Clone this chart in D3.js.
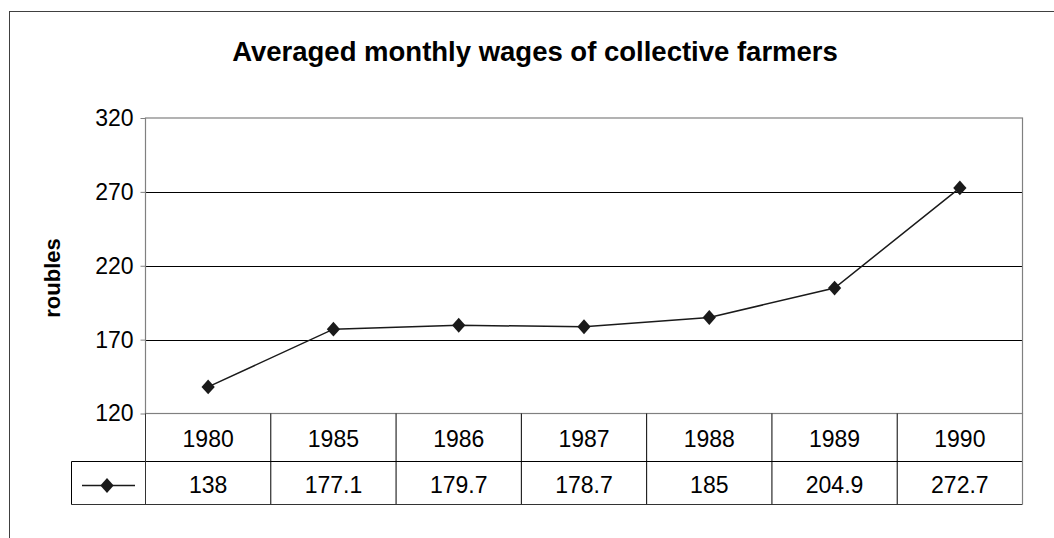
<!DOCTYPE html>
<html>
<head>
<meta charset="utf-8">
<script src="https://cdn.jsdelivr.net/npm/d3@7"></script>
<style>
  html, body { margin: 0; padding: 0; background: #fff; }
  svg { display: block; font-family: Arial, "Liberation Sans", sans-serif; }
</style>
</head>
<body>
<svg id="chart" width="1054" height="538"></svg>
<script>
// Averaged monthly wages of collective farmers (roubles)
const years = ["1980", "1985", "1986", "1987", "1988", "1989", "1990"];
const wages = [138, 177.1, 179.7, 178.7, 185, 204.9, 272.7];
const wageLabels = ["138", "177.1", "179.7", "178.7", "185", "204.9", "272.7"];
const yTicks = [120, 170, 220, 270, 320];

const svg = d3.select("#chart");

const plot = { left: 145.5, right: 1022.5, top: 118, bottom: 413.5 };
const rowH1 = 48, rowH2 = 43;
const legendLeft = 71.5;

// outer chart frame (runs off the right and bottom edges)
svg.append("rect")
  .attr("x", 9.5).attr("y", 11.5)
  .attr("width", 1100).attr("height", 600)
  .attr("fill", "none").attr("stroke", "#404040").attr("stroke-width", 1);

svg.append("text")
  .attr("x", 535).attr("y", 61)
  .attr("text-anchor", "middle")
  .attr("font-size", 27.5).attr("font-weight", "bold")
  .attr("fill", "#000")
  .text("Averaged monthly wages of collective farmers");

const x = d3.scaleBand().domain(years).range([plot.left, plot.right]).padding(0);
const y = d3.scaleLinear().domain([120, 320]).range([plot.bottom, plot.top]);

// horizontal gridlines
svg.append("g").selectAll("line").data(yTicks.filter(t => t > 120 && t < 320)).join("line")
  .attr("x1", plot.left).attr("x2", plot.right)
  .attr("y1", d => Math.round(y(d)) + 0.5).attr("y2", d => Math.round(y(d)) + 0.5)
  .attr("stroke", "#000").attr("stroke-width", 1);

// value axis
const yAxis = d3.axisLeft(y).tickValues(yTicks).tickSize(5).tickPadding(7);
const gy = svg.append("g")
  .attr("transform", `translate(${plot.left},0)`)
  .call(yAxis);
gy.select(".domain").remove();
gy.selectAll(".tick line").attr("stroke", "#808080");
gy.selectAll(".tick text")
  .attr("font-size", 23).attr("fill", "#000")
  .attr("font-family", "Arial, 'Liberation Sans', sans-serif");

// plot area border
svg.append("rect")
  .attr("x", plot.left).attr("y", plot.top)
  .attr("width", plot.right - plot.left).attr("height", plot.bottom - plot.top)
  .attr("fill", "none").attr("stroke", "#808080").attr("stroke-width", 1.2);

svg.append("text")
  .attr("transform", `translate(60,278) rotate(-90)`)
  .attr("text-anchor", "middle")
  .attr("font-size", 22).attr("font-weight", "bold")
  .text("roubles");

// series line and markers
const line = d3.line()
  .x((d, i) => x(years[i]) + x.bandwidth() / 2)
  .y(d => y(d));

svg.append("path")
  .datum(wages)
  .attr("d", line)
  .attr("fill", "none").attr("stroke", "#1a1a1a").attr("stroke-width", 1.5);

// diamond marker: square rotated 45°, slightly taller than wide
const diamond = d3.symbol().type(d3.symbolDiamond2).size(112);
svg.append("g").selectAll("path").data(wages).join("path")
  .attr("d", diamond)
  .attr("transform", (d, i) => `translate(${x(years[i]) + x.bandwidth() / 2},${y(d)}) scale(1,1.12)`)
  .attr("fill", "#1a1a1a");

// data table
const t0 = plot.bottom, t1 = t0 + rowH1, t2 = t1 + rowH2;
const table = svg.append("g");

// column separators
table.selectAll("line.col").data(years.slice(1)).join("line")
  .attr("class", "col")
  .attr("x1", d => x(d)).attr("x2", d => x(d))
  .attr("y1", t0).attr("y2", t2)
  .attr("stroke", "#000").attr("stroke-width", 1);

// row separator and borders
table.append("line")
  .attr("x1", legendLeft).attr("x2", plot.right).attr("y1", t1).attr("y2", t1)
  .attr("stroke", "#000");
table.append("line")
  .attr("x1", legendLeft).attr("x2", plot.right).attr("y1", t2).attr("y2", t2)
  .attr("stroke", "#333");
table.append("line")
  .attr("x1", plot.left).attr("x2", plot.left).attr("y1", t0).attr("y2", t2)
  .attr("stroke", "#333");
table.append("line")
  .attr("x1", legendLeft).attr("x2", legendLeft).attr("y1", t1).attr("y2", t2)
  .attr("stroke", "#000");
table.append("line")
  .attr("x1", plot.right).attr("x2", plot.right).attr("y1", t0).attr("y2", t2)
  .attr("stroke", "#808080").attr("stroke-width", 1.2);

table.selectAll("text.year").data(years).join("text")
  .attr("class", "year")
  .attr("x", d => x(d) + x.bandwidth() / 2)
  .attr("y", t0 + rowH1 / 2 + 9)
  .attr("text-anchor", "middle").attr("font-size", 23)
  .text(d => d);

table.selectAll("text.val").data(wageLabels).join("text")
  .attr("class", "val")
  .attr("x", (d, i) => x(years[i]) + x.bandwidth() / 2)
  .attr("y", t1 + rowH2 / 2 + 10)
  .attr("text-anchor", "middle").attr("font-size", 23)
  .text(d => d);

// legend key
const ly = t1 + rowH2 / 2 + 2.5;
table.append("line")
  .attr("x1", 82).attr("x2", 135).attr("y1", ly).attr("y2", ly)
  .attr("stroke", "#1a1a1a").attr("stroke-width", 1.5);
table.append("path")
  .attr("d", diamond)
  .attr("transform", `translate(107,${ly}) scale(1,1.12)`)
  .attr("fill", "#1a1a1a");
</script>
</body>
</html>
